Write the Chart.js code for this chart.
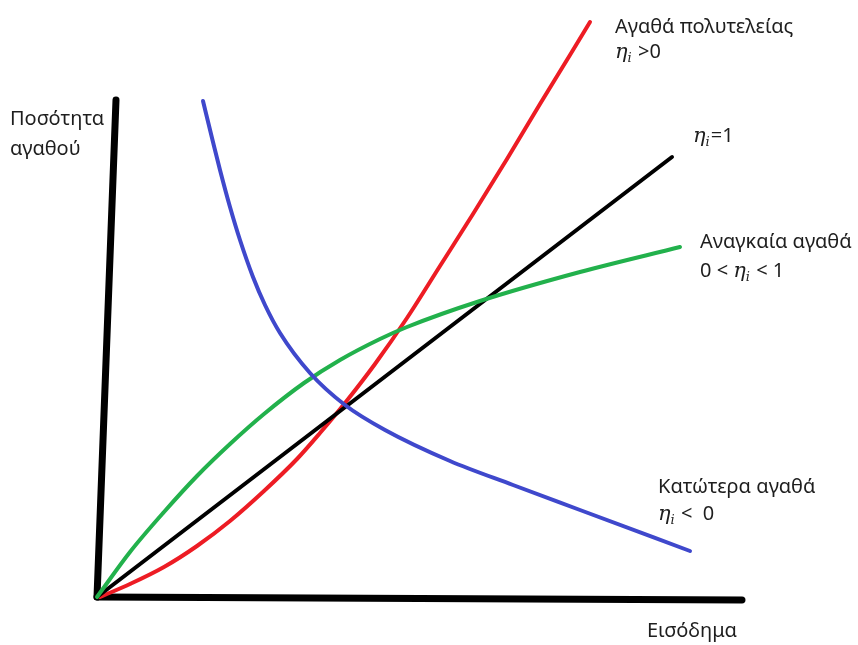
<!DOCTYPE html>
<html>
<head>
<meta charset="utf-8">
<script src="https://cdn.jsdelivr.net/npm/chart.js"></script>
<style>
  body { margin: 0; background: #fff; }
  #wrap { width: 858px; height: 645px; }
</style>
</head>
<body>
<div id="wrap"><canvas id="engelChart"></canvas></div>
<script>
// units: income (x) / quantity (y), origin where the axes meet
const axisY = [{ x: 0, y: 0 }, { x: 19, y: 497 }];
const axisX = [{ x: 0, y: 0 }, { x: 645, y: -3 }];

// unit elasticity, straight line
const unitX = [0, 575];
const unitY = [0, 440];

// luxury goods
const luxuryX = [3, 33, 67, 100, 133, 167, 200, 223, 248, 278, 310, 343, 376, 410, 443, 473, 493];
const luxuryY = [0, 13, 30, 51, 76, 106, 138, 164, 194, 233, 279, 331, 383, 438, 493, 542, 575];

// necessary goods
const necessaryX = [0, 33, 67, 100, 133, 167, 207, 243, 283, 310, 383, 483, 583];
const necessaryY = [0, 45, 85, 121, 153, 183, 214, 237, 258, 270, 296, 325, 350];

// inferior goods
const inferiorX = [106, 116, 123, 133, 143, 156, 168, 183, 213, 248, 288, 353, 416, 483, 593];
const inferiorY = [496, 455, 427, 390, 357, 320, 292, 264, 224, 192, 167, 136, 112, 87, 46];

const axisTitles = ['Ποσότητα', 'αγαθού', 'Εισόδημα'];
const curveNames = ['Αγαθά πολυτελείας', 'Αναγκαία αγαθά', 'Κατώτερα αγαθά'];

function pts(xs, ys) {
    return xs.map(function(x, i) { return { x: x, y: ys[i] }; });
}

// label anchors (data units, text baseline)
const labels = [
    { at: [-87, 472], parts: [[axisTitles[0], 'n']] },
    { at: [-87, 442], parts: [[axisTitles[1], 'n']] },
    { at: [550, -40], parts: [[axisTitles[2], 'n']] },
    { at: [518, 564], parts: [[curveNames[0], 'n']] },
    { at: [518, 539], parts: [['η', 'e'], ['i', 's'], [' >0', 'n']] },
    { at: [596, 455], parts: [['η', 'e'], ['i', 's'], ['=1', 'n']] },
    { at: [603, 349], parts: [[curveNames[1], 'n']] },
    { at: [603, 320], parts: [['0 < ', 'n'], ['η', 'e'], ['i', 's'], [' < 1', 'n']] },
    { at: [561, 104], parts: [[curveNames[2], 'n']] },
    { at: [561, 77], parts: [['η', 'e'], ['i', 's'], [' <  0', 'n']] }
];

const fonts = {
    n: '20px "Noto Sans"',
    e: 'italic 21px "DejaVu Serif"',
    s: 'italic 13px "DejaVu Serif"'
};

const textLabels = {
    id: 'textLabels',
    afterDatasetsDraw: function(chart) {
        const ctx = chart.ctx;
        const sx = chart.scales.x, sy = chart.scales.y;
        ctx.save();
        ctx.fillStyle = '#1e1e1e';
        ctx.textBaseline = 'alphabetic';
        labels.forEach(function(l) {
            let px = sx.getPixelForValue(l.at[0]);
            const py = sy.getPixelForValue(l.at[1]);
            l.parts.forEach(function(p) {
                ctx.font = fonts[p[1]];
                ctx.fillText(p[0], px, p[1] === 's' ? py + 4 : py);
                px += ctx.measureText(p[0]).width + (p[1] === 's' ? 1 : 0);
            });
        });
        ctx.restore();
    }
};

function line(data, color, width, curved) {
    return {
        data: data,
        borderColor: color,
        borderWidth: width,
        pointRadius: 0,
        fill: false,
        clip: false,
        borderCapStyle: 'round',
        borderJoinStyle: 'round',
        tension: 0,
        cubicInterpolationMode: curved ? 'monotone' : 'default'
    };
}

new Chart(document.getElementById('engelChart'), {
    type: 'line',
    data: {
        datasets: [
            line(pts(inferiorX, inferiorY), 'rgb(63,72,204)', 4, true),
            line(pts(necessaryX, necessaryY), 'rgb(34,177,76)', 4, true),
            line(pts(unitX, unitY), '#000', 4, false),
            line(pts(luxuryX, luxuryY), 'rgb(237,28,36)', 4, true),
            line(axisY, '#000', 7, false),
            line(axisX, '#000', 7, false)
        ]
    },
    options: {
        responsive: true,
        maintainAspectRatio: false,
        animation: false,
        devicePixelRatio: 1,
        layout: { padding: 0 },
        scales: {
            x: { type: 'linear', min: -97, max: 761, display: false },
            y: { type: 'linear', min: -48, max: 597, display: false }
        },
        plugins: {
            legend: { display: false },
            tooltip: { enabled: false }
        }
    },
    plugins: [textLabels]
});
</script>
</body>
</html>
